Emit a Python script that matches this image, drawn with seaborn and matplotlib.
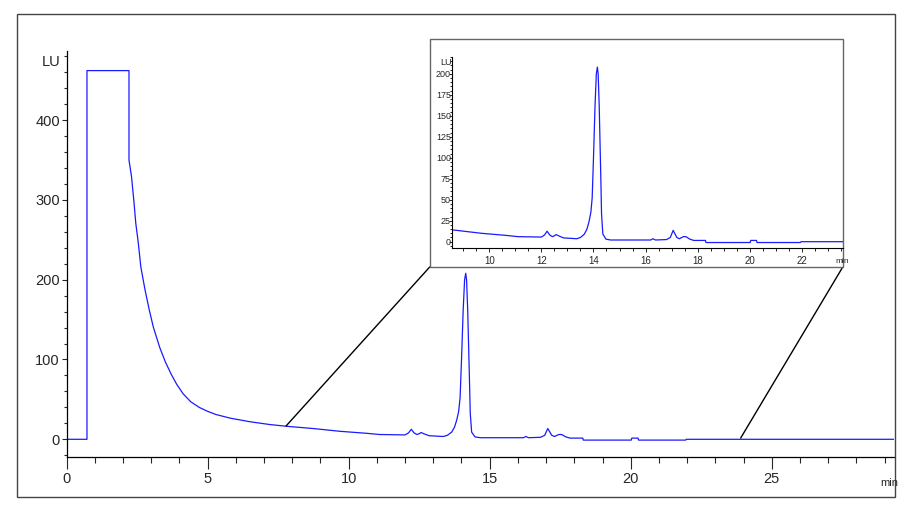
import matplotlib
matplotlib.use("Agg")
import matplotlib.pyplot as plt
from matplotlib.patches import Rectangle, ConnectionPatch
from matplotlib.ticker import MultipleLocator
import pandas as pd
import seaborn as sns

# chromatogram trace (time in min, signal in LU)
time_min = [0.0, 0.72, 0.72, 2.21, 2.21, 2.30, 2.39, 2.45, 2.54, 2.63, 2.78, 2.93,
            3.07, 3.30, 3.50, 3.70, 3.90, 4.13, 4.40, 4.70, 5.00, 5.30, 5.80, 6.50,
            7.20, 7.80, 8.74, 9.70, 10.64, 11.10, 12.00, 12.12, 12.22, 12.32, 12.42,
            12.50, 12.57, 12.66, 12.85, 13.36, 13.50, 13.65, 13.75, 13.83, 13.90,
            13.95, 14.00, 14.06, 14.11, 14.15, 14.18, 14.22, 14.28, 14.31, 14.36,
            14.48, 14.66, 15.50, 16.20, 16.28, 16.38, 16.80, 16.95, 17.06, 17.20,
            17.30, 17.45, 17.55, 17.70, 17.85, 18.30, 18.32, 20.02, 20.04, 20.26,
            20.28, 21.95, 21.97, 29.35]
signal_lu = [0.0, 0.0, 462.0, 462.0, 350.0, 329.0, 296.0, 271.0, 246.0, 216.0, 187.0, 162.0,
             141.0, 115.0, 97.0, 82.0, 69.0, 57.0, 47.0, 40.0, 35.0, 31.0, 26.5, 22.0,
             18.5, 16.3, 13.5, 10.0, 7.5, 6.0, 5.5, 8.0, 12.5, 8.0, 6.0,
             7.0, 8.5, 7.0, 4.5, 3.5, 5.0, 9.0, 15.0, 24.0, 35.0,
             52.0, 99.0, 162.0, 200.0, 208.0, 200.0, 162.0, 79.0, 33.0, 9.0,
             3.0, 2.0, 2.0, 2.0, 3.5, 2.0, 2.5, 5.0, 13.5, 5.0,
             3.5, 6.0, 6.0, 3.0, 1.5, 1.5, -1.0, -1.0, 1.5, 1.5,
             -1.0, -1.0, 0.0, 0.0]

main_xlim = (0, 29.35)
main_ylim = (-22.8, 486.6)
inset_xlim = (8.58, 23.57)
inset_ylim = (-7.9, 220)

df = pd.DataFrame({"time": time_min, "signal": signal_lu})

sns.set_style("ticks")
plt.rcParams["font.family"] = ["Liberation Sans", "DejaVu Sans"]
line_color = "#1a1aff"

fig = plt.figure(figsize=(9.07, 5.17), dpi=100)

# outer frame
fig.patches.append(Rectangle((0.0187, 0.0387), 0.968, 0.934, transform=fig.transFigure,
                             fill=False, edgecolor="#444444", lw=1.0, zorder=0))

# main chromatogram
ax = fig.add_axes([0.0735, 0.1151, 0.9126, 0.7863])
sns.lineplot(data=df, x="time", y="signal", ax=ax, estimator=None, sort=False,
             color=line_color, lw=0.9)
ax.set_xlim(*main_xlim)
ax.set_ylim(*main_ylim)
ax.set_xlabel("")
ax.set_ylabel("")
ax.xaxis.set_major_locator(MultipleLocator(5))
ax.xaxis.set_minor_locator(MultipleLocator(1))
ax.yaxis.set_major_locator(MultipleLocator(100))
ax.yaxis.set_minor_locator(MultipleLocator(20))
ax.tick_params(axis="x", which="major", length=8.5, width=0.8, pad=2, labelsize=10.5)
ax.tick_params(axis="x", which="minor", length=4.3, width=0.8)
ax.tick_params(axis="y", which="major", length=3.8, width=0.8, pad=1, labelsize=10.5)
ax.tick_params(axis="y", which="minor", length=2.5, width=0.8)
for side in ["top", "right"]:
    ax.spines[side].set_visible(False)
for side in ["left", "bottom"]:
    ax.spines[side].set_color("black")
    ax.spines[side].set_linewidth(0.9)
ax.set_facecolor("none")
fig.text(0.0562, 0.8807, "LU", ha="center", va="center", fontsize=10.5)
fig.text(0.980, 0.0658, "min", ha="center", va="center", fontsize=8)

# inset frame
fig.patches.append(Rectangle((0.4738, 0.4836), 0.4554, 0.441, transform=fig.transFigure,
                             fill=True, facecolor="white", edgecolor="#666666",
                             lw=1.0, zorder=1))

# connector lines from main trace to inset frame
for xy_data, xy_fig in [((7.78, 16.7), (0.4738, 0.4836)), ((23.9, 1.6), (0.9292, 0.4836))]:
    con = ConnectionPatch(xyA=xy_data, coordsA=ax.transData, xyB=xy_fig,
                          coordsB=fig.transFigure, color="black", lw=1.0)
    fig.add_artist(con)

# zoomed inset
axin = fig.add_axes([0.4987, 0.5197, 0.4304, 0.3700])
axin.set_zorder(3)
sns.lineplot(data=df, x="time", y="signal", ax=axin, estimator=None, sort=False,
             color=line_color, lw=0.9)
axin.set_xlim(*inset_xlim)
axin.set_ylim(*inset_ylim)
axin.set_xlabel("")
axin.set_ylabel("")
axin.xaxis.set_major_locator(MultipleLocator(2))
axin.xaxis.set_minor_locator(MultipleLocator(0.5))
axin.yaxis.set_major_locator(MultipleLocator(25))
axin.yaxis.set_minor_locator(MultipleLocator(5))
axin.tick_params(axis="x", which="major", length=3, width=0.7, pad=2.5, labelsize=7)
axin.tick_params(axis="x", which="minor", length=2, width=0.7)
axin.tick_params(axis="y", which="major", length=2.5, width=0.7, pad=-1.5, labelsize=6.5)
axin.tick_params(axis="y", which="minor", length=1.5, width=0.7)
for side in ["top", "right"]:
    axin.spines[side].set_visible(False)
for side in ["left", "bottom"]:
    axin.spines[side].set_color("black")
    axin.spines[side].set_linewidth(0.8)
axin.set_facecolor("none")
fig.text(446 / 907, 1 - 62.3 / 517, "LU", ha="center", va="center", fontsize=6.5, zorder=4)
fig.text(842 / 907, 1 - 261.7 / 517, "min", ha="center", va="center", fontsize=6, zorder=4)

fig.savefig("out.png", dpi=100)
